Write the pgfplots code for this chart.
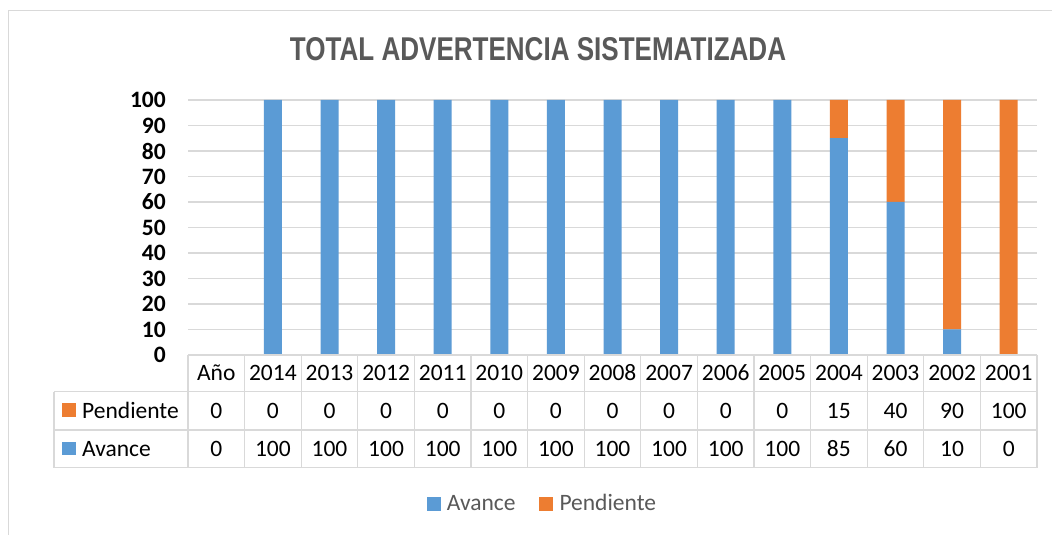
\documentclass[border=0pt]{standalone}
\usepackage{pgfplots}
\pgfplotsset{compat=1.18}
\usepackage{fontspec}
\setmainfont{Carlito}
\newfontfamily\titlefont{Liberation Sans}
\definecolor{cblue}{HTML}{5B9BD5}
\definecolor{corange}{HTML}{ED7D31}
\definecolor{cgrid}{HTML}{D9D9D9}
\definecolor{ctext}{HTML}{595959}
\newcommand{\tf}{\fontsize{23.5}{28}\selectfont}
\begin{document}
\begin{tikzpicture}[x=1pt,y=1pt]
\useasboundingbox (0,0) rectangle (1052,535);
\fill[white] (0,0) rectangle (1052,535);
\draw[cgrid, line width=1.3pt] (8.5,0) -- (8.5,524.5) -- (1052,524.5);
\node[anchor=center, text=ctext, inner sep=0pt] at (538,485.5) {\resizebox{496pt}{23pt}{\titlefont\bfseries TOTAL ADVERTENCIA SISTEMATIZADA}};
\begin{axis}[at={(188pt,180pt)}, anchor=south west, scale only axis,
  width=849pt, height=255pt, xmin=-0.5, xmax=14.5, ymin=0, ymax=100,
  ybar stacked, bar width=18pt, xtick=\empty, ytick={0,10,...,100},
  ymajorgrids, major grid style={cgrid, line width=1.3pt},
  axis line style={draw=none}, major tick length=0pt,
  yticklabel style={font=\tf\bfseries, text=black, anchor=east, inner sep=0pt, xshift=-22pt},
  /pgf/number format/assume math mode=true]
\addplot[fill=cblue, draw=none] coordinates {(0,0) (1,100) (2,100) (3,100) (4,100) (5,100) (6,100) (7,100) (8,100) (9,100) (10,100) (11,85) (12,60) (13,10) (14,0)};
\addplot[fill=corange, draw=none] coordinates {(0,0) (1,0) (2,0) (3,0) (4,0) (5,0) (6,0) (7,0) (8,0) (9,0) (10,0) (11,15) (12,40) (13,90) (14,100)};
\end{axis}
% data table
\draw[cgrid, line width=1.3pt] (188,180) -- (1037,180);
\draw[cgrid, line width=1.3pt] (54,143.3) -- (1037,143.3);
\draw[cgrid, line width=1.3pt] (54,105) -- (1037,105);
\draw[cgrid, line width=1.3pt] (54,67.3) -- (1037,67.3);
\draw[cgrid, line width=1.3pt] (54,143.3) -- (54,67.3);
\foreach \k in {0,...,15}{
  \pgfmathsetmacro{\xx}{188+56.6*\k}
  \draw[cgrid, line width=1.3pt] (\xx,180) -- (\xx,67.3);
}
\foreach \lab [count=\i from 0] in {Año,2014,2013,2012,2011,2010,2009,2008,2007,2006,2005,2004,2003,2002,2001}{
  \pgfmathsetmacro{\xx}{188+56.6*(\i+0.5)}
  \node[anchor=base, inner sep=0pt, font=\tf] at (\xx,154.1) {\lab};
}
\foreach \v [count=\i from 0] in {0,0,0,0,0,0,0,0,0,0,0,15,40,90,100}{
  \pgfmathsetmacro{\xx}{188+56.6*(\i+0.5)}
  \node[anchor=base, inner sep=0pt, font=\tf] at (\xx,116.4) {\v};
}
\foreach \v [count=\i from 0] in {0,100,100,100,100,100,100,100,100,100,100,85,60,10,0}{
  \pgfmathsetmacro{\xx}{188+56.6*(\i+0.5)}
  \node[anchor=base, inner sep=0pt, font=\tf] at (\xx,78.6) {\v};
}
\fill[corange] (62.3,118.3) rectangle (76,131.7);
\node[anchor=base west, inner sep=0pt, font=\tf] at (82,116.4) {Pendiente};
\fill[cblue] (62.3,80) rectangle (76,93.3);
\node[anchor=base west, inner sep=0pt, font=\tf] at (82,78.6) {Avance};
% legend
\fill[cblue] (427.3,24.3) rectangle (441,38);
\node[anchor=base west, inner sep=0pt, font=\tf, text=ctext] at (446.7,24.4) {Avance};
\fill[corange] (539,24.3) rectangle (552.7,38);
\node[anchor=base west, inner sep=0pt, font=\tf, text=ctext] at (559.3,24.4) {Pendiente};
\end{tikzpicture}
\end{document}
